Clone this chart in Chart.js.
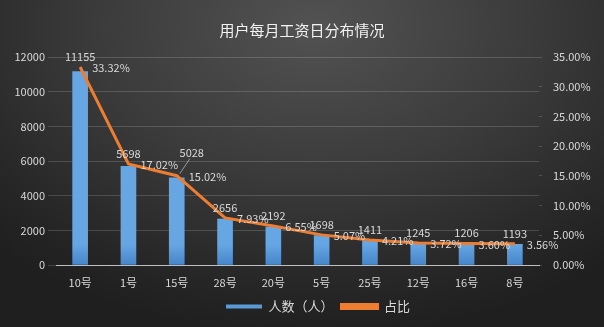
<!DOCTYPE html>
<html>
<head>
<meta charset="utf-8">
<script src="https://cdn.jsdelivr.net/npm/chart.js@4"></script>
<style>
  html, body { margin: 0; padding: 0; }
  body {
    width: 604px; height: 327px; overflow: hidden;
    background: radial-gradient(ellipse 75% 95% at 52% 8%, #525252 0%, #3a3a3a 50%, #262626 85%, #1f1f1f 100%);
  }
  #wrap { position: relative; width: 604px; height: 327px; }
</style>
</head>
<body>
<div id="wrap"><canvas id="payChart"></canvas></div>
<script>
// --- data ---
const categories = ['10号', '1号', '15号', '28号', '20号', '5号', '25号', '12号', '16号', '8号'];
const counts = [11155, 5698, 5028, 2656, 2192, 1698, 1411, 1245, 1206, 1193];
const shares = [33.32, 17.02, 15.02, 7.93, 6.55, 5.07, 4.21, 3.72, 3.60, 3.56];
const seriesNames = ['人数（人）', '占比'];

const textColor = '#d9d9d9';
const gridColor = 'rgba(255,255,255,0.16)';
const fontFamily = '"Noto Sans CJK SC", "Noto Sans", sans-serif';

// each bar gets its own vertical gradient
const barGradient = {
  id: 'barGradient',
  beforeDatasetDraw(chart, args) {
    if (args.index !== 0) return;
    const c = chart.ctx;
    args.meta.data.forEach(bar => {
      const g = c.createLinearGradient(0, bar.y, 0, bar.base);
      g.addColorStop(0, '#66a6e3');
      g.addColorStop(1, '#4686cb');
      bar.options.backgroundColor = g;
    });
  }
};

// value labels above bars and percentages right of line points
const valueLabels = {
  id: 'valueLabels',
  afterDatasetsDraw(chart) {
    const c = chart.ctx;
    const bars = chart.getDatasetMeta(0).data;
    const pts = chart.getDatasetMeta(1).data;
    c.save();
    c.font = '11px ' + fontFamily;
    c.fillStyle = textColor;
    const pctBoxes = [];
    pts.forEach((p, i) => {
      const txt = shares[i].toFixed(2) + '%';
      const w = c.measureText(txt).width;
      pctBoxes.push({ x0: p.x + 12, x1: p.x + 12 + w, y0: p.y - 6, y1: p.y + 8, txt });
    });
    bars.forEach((bar, i) => {
      const txt = String(counts[i]);
      const w = c.measureText(txt).width;
      let cx = bar.x;
      let bottom = Math.min(bar.y, pts[i].y) - 5;
      const prev = pctBoxes[i - 1];
      // only a large overlap with the previous percent label moves the label (with a leader line)
      if (prev && prev.x1 - (cx - w / 2) > 9 && bottom > prev.y0 && bottom - 12 < prev.y1) {
        const anchorY = Math.min(bar.y, pts[i].y) - 2;
        cx += 15;
        bottom = prev.y0;
        c.strokeStyle = 'rgba(217,217,217,0.6)';
        c.lineWidth = 1;
        c.beginPath();
        c.moveTo(bar.x + 3, anchorY);
        c.lineTo(cx - 2, bottom + 1);
        c.stroke();
      }
      c.textAlign = 'center';
      c.textBaseline = 'bottom';
      c.fillText(txt, cx, bottom);
    });
    pctBoxes.forEach((b, i) => {
      c.textAlign = 'left';
      c.textBaseline = 'middle';
      c.fillText(b.txt, b.x0, pts[i].y + 1);
    });
    c.restore();
  }
};

// nudge the legend slightly right, as in the picture
const legendShift = {
  id: 'legendShift',
  afterLayout(chart) {
    chart.legend.left += 32;
  }
};

new Chart(document.getElementById('payChart'), {
  data: {
    labels: categories,
    datasets: [
      {
        type: 'bar',
        label: seriesNames[0],
        data: counts,
        yAxisID: 'y',
        backgroundColor: '#5b9bd5',
        barThickness: 15,
        order: 1
      },
      {
        type: 'line',
        label: seriesNames[1],
        data: shares,
        yAxisID: 'y1',
        borderColor: '#ed7d31',
        backgroundColor: '#ed7d31',
        borderWidth: 3,
        pointRadius: 0,
        tension: 0,
        order: 0
      }
    ]
  },
  options: {
    responsive: true,
    maintainAspectRatio: false,
    animation: false,
    layout: { padding: { left: 0, right: 0, top: 0, bottom: 4 } },
    scales: {
      x: {
        grid: { display: false },
        border: { color: '#bfbfbf', width: 1 },
        ticks: {
          color: textColor, font: { size: 11, family: fontFamily }, padding: 3,
          maxRotation: 0, autoSkip: false
        },
        afterFit: s => { s.height = 27; }
      },
      y: {
        position: 'left',
        min: 0, max: 12000,
        ticks: {
          stepSize: 2000, color: textColor, font: { size: 11, family: fontFamily }, padding: 3,
          callback: v => String(v)
        },
        grid: { color: gridColor, tickLength: 8, tickColor: gridColor },
        border: { display: false },
        afterFit: s => { s.width = 56; }
      },
      y1: {
        position: 'right',
        min: 0, max: 35,
        ticks: {
          stepSize: 5, color: textColor, font: { size: 11, family: fontFamily }, padding: 11,
          callback: v => v.toFixed(2) + '%'
        },
        grid: { drawOnChartArea: false, tickLength: 3, tickColor: gridColor },
        border: { display: false },
        afterFit: s => { s.width = 65; }
      }
    },
    plugins: {
      title: {
        display: true,
        text: '用户每月工资日分布情况',
        color: '#f2f2f2',
        font: { size: 15, family: fontFamily, weight: 'normal' },
        padding: { top: 21, bottom: 18 }
      },
      legend: {
        position: 'bottom',
        labels: {
          color: textColor,
          font: { size: 13, family: fontFamily },
          boxWidth: 36,
          boxHeight: 4,
          padding: 8,
          sort: (a, b) => a.datasetIndex - b.datasetIndex
        }
      },
      tooltip: { enabled: false }
    }
  },
  plugins: [barGradient, valueLabels, legendShift]
});
</script>
</body>
</html>
